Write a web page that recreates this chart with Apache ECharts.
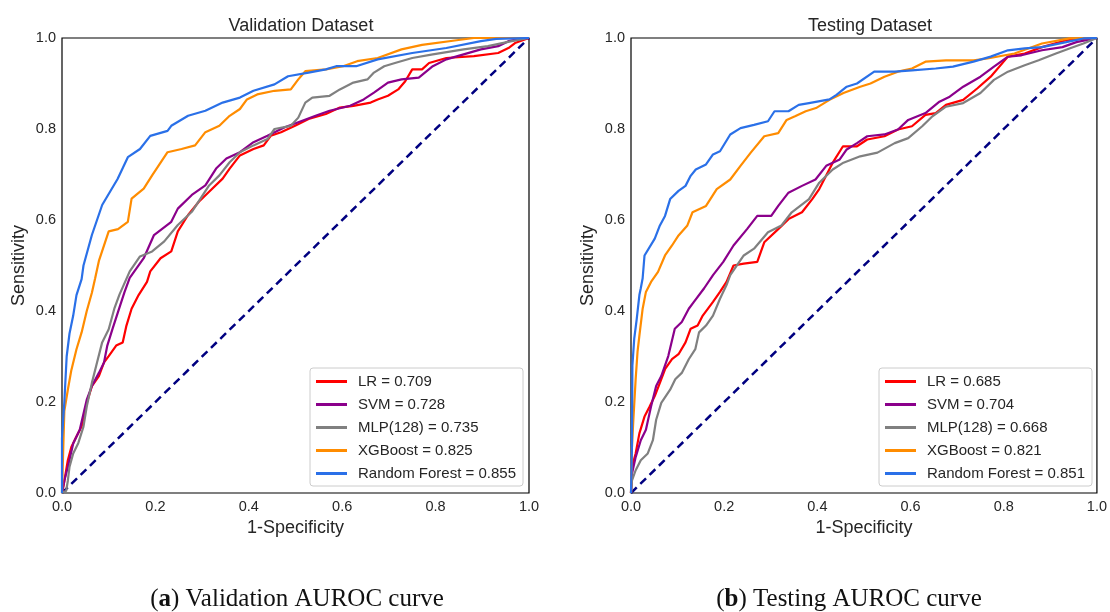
<!DOCTYPE html>
<html><head><meta charset="utf-8">
<script src="https://cdn.jsdelivr.net/npm/echarts@6/dist/echarts.min.js"></script>
<style>html,body{margin:0;padding:0;background:#fff}#c{width:1110px;height:612px}</style>
</head><body><div id="c"></div>
<script>
const ticks = [0, 0.2, 0.4, 0.6, 0.8, 1.0];
const panelTitles = ['Validation Dataset', 'Testing Dataset'];
const captions = [['a', 'Validation AUROC curve'], ['b', 'Testing AUROC curve']];
const models = ['LR', 'SVM', 'MLP(128)', 'XGBoost', 'Random Forest'];
const valAUC = ['0.709', '0.728', '0.735', '0.825', '0.855'];
const testAUC = ['0.685', '0.704', '0.668', '0.821', '0.851'];
const diagonal = [[0, 0], [1, 1]];

const valLR = [[0,0],[0.004,0.02],[0.0125,0.072],[0.02,0.101],[0.031,0.124],[0.042,0.146],[0.053,0.198],[0.064,0.235],[0.079,0.257],[0.09,0.287],[0.1,0.301],[0.116,0.324],[0.13,0.331],[0.138,0.368],[0.149,0.405],[0.164,0.435],[0.182,0.464],[0.189,0.487],[0.211,0.516],[0.234,0.531],[0.248,0.575],[0.27,0.611],[0.293,0.64],[0.315,0.662],[0.344,0.691],[0.359,0.713],[0.381,0.742],[0.41,0.756],[0.432,0.764],[0.447,0.785],[0.469,0.793],[0.499,0.807],[0.528,0.822],[0.565,0.833],[0.595,0.847],[0.624,0.851],[0.661,0.858],[0.676,0.865],[0.698,0.873],[0.72,0.887],[0.735,0.905],[0.75,0.931],[0.771,0.931],[0.786,0.945],[0.823,0.956],[0.882,0.96],[0.934,0.967],[0.956,0.978],[0.97,0.989],[1,1]];
const valSVM = [[0,0],[0.005,0.027],[0.0125,0.057],[0.024,0.109],[0.038,0.139],[0.053,0.205],[0.064,0.235],[0.079,0.264],[0.09,0.287],[0.097,0.324],[0.108,0.36],[0.12,0.398],[0.134,0.442],[0.145,0.473],[0.175,0.516],[0.197,0.567],[0.234,0.596],[0.248,0.625],[0.278,0.655],[0.307,0.676],[0.33,0.713],[0.352,0.735],[0.381,0.749],[0.41,0.771],[0.44,0.785],[0.477,0.804],[0.506,0.815],[0.543,0.829],[0.573,0.84],[0.617,0.851],[0.646,0.865],[0.668,0.88],[0.698,0.902],[0.727,0.909],[0.764,0.913],[0.794,0.938],[0.823,0.953],[0.86,0.964],[0.897,0.975],[0.934,0.982],[0.956,0.993],[0.97,0.996],[1,1]];
const valMLP = [[0,0],[0.009,0.005],[0.0125,0.027],[0.016,0.057],[0.024,0.087],[0.035,0.11],[0.046,0.146],[0.053,0.19],[0.064,0.242],[0.075,0.287],[0.086,0.331],[0.1,0.36],[0.112,0.405],[0.123,0.436],[0.145,0.487],[0.167,0.52],[0.193,0.531],[0.219,0.553],[0.248,0.589],[0.278,0.618],[0.315,0.676],[0.337,0.698],[0.359,0.727],[0.381,0.749],[0.41,0.764],[0.44,0.778],[0.455,0.8],[0.49,0.807],[0.506,0.825],[0.521,0.858],[0.536,0.869],[0.573,0.873],[0.595,0.887],[0.624,0.902],[0.654,0.909],[0.668,0.924],[0.69,0.938],[0.713,0.945],[0.75,0.956],[0.794,0.964],[0.86,0.975],[0.912,0.982],[0.963,0.993],[1,1]];
const valXGB = [[0,0],[0.003,0.11],[0.005,0.18],[0.0125,0.227],[0.02,0.27],[0.031,0.316],[0.042,0.353],[0.053,0.4],[0.064,0.44],[0.071,0.472],[0.079,0.51],[0.1,0.575],[0.12,0.58],[0.141,0.596],[0.149,0.647],[0.175,0.669],[0.193,0.698],[0.226,0.749],[0.256,0.756],[0.285,0.764],[0.307,0.793],[0.337,0.807],[0.359,0.829],[0.381,0.844],[0.396,0.865],[0.418,0.876],[0.455,0.884],[0.49,0.887],[0.506,0.909],[0.521,0.927],[0.565,0.931],[0.602,0.938],[0.632,0.949],[0.676,0.956],[0.727,0.975],[0.771,0.985],[0.845,0.995],[0.882,1],[1,1]];
const valRF = [[0,0],[0,0.12],[0.005,0.2],[0.01,0.3],[0.016,0.35],[0.024,0.39],[0.031,0.435],[0.042,0.47],[0.046,0.5],[0.064,0.567],[0.086,0.633],[0.119,0.69],[0.141,0.738],[0.167,0.756],[0.189,0.785],[0.226,0.796],[0.234,0.807],[0.27,0.829],[0.307,0.84],[0.344,0.858],[0.381,0.869],[0.41,0.884],[0.455,0.898],[0.484,0.916],[0.528,0.924],[0.565,0.931],[0.587,0.938],[0.63,0.938],[0.676,0.953],[0.75,0.967],[0.823,0.978],[0.897,0.993],[0.93,0.998],[1,1]];

const testLR = [[0,0],[0.002,0.057],[0.01,0.087],[0.018,0.131],[0.029,0.168],[0.04,0.19],[0.051,0.213],[0.062,0.242],[0.073,0.272],[0.088,0.294],[0.102,0.305],[0.117,0.331],[0.128,0.361],[0.143,0.368],[0.154,0.39],[0.176,0.42],[0.191,0.442],[0.205,0.464],[0.22,0.5],[0.242,0.504],[0.271,0.508],[0.286,0.551],[0.316,0.58],[0.338,0.602],[0.367,0.617],[0.389,0.646],[0.404,0.668],[0.433,0.726],[0.455,0.762],[0.485,0.762],[0.507,0.777],[0.544,0.784],[0.573,0.799],[0.603,0.806],[0.632,0.831],[0.654,0.835],[0.676,0.853],[0.713,0.864],[0.743,0.889],[0.772,0.915],[0.809,0.959],[0.845,0.966],[0.882,0.98],[0.934,0.995],[1,1]];
const testSVM = [[0,0],[0.002,0.042],[0.01,0.079],[0.021,0.116],[0.032,0.139],[0.043,0.19],[0.054,0.235],[0.065,0.257],[0.08,0.301],[0.094,0.361],[0.109,0.376],[0.124,0.405],[0.135,0.42],[0.157,0.45],[0.176,0.479],[0.198,0.508],[0.22,0.544],[0.249,0.58],[0.271,0.609],[0.301,0.609],[0.316,0.631],[0.338,0.66],[0.367,0.675],[0.396,0.689],[0.419,0.719],[0.448,0.733],[0.463,0.755],[0.485,0.769],[0.507,0.784],[0.544,0.788],[0.573,0.799],[0.595,0.82],[0.632,0.835],[0.662,0.86],[0.684,0.871],[0.713,0.893],[0.75,0.915],[0.779,0.937],[0.809,0.959],[0.838,0.962],[0.882,0.973],[0.926,0.98],[0.956,0.991],[1,1]];
const testMLP = [[0,0],[0.002,0.027],[0.01,0.05],[0.021,0.072],[0.036,0.087],[0.047,0.116],[0.054,0.161],[0.065,0.198],[0.084,0.227],[0.095,0.25],[0.109,0.264],[0.124,0.294],[0.138,0.316],[0.146,0.353],[0.161,0.368],[0.176,0.39],[0.191,0.427],[0.205,0.457],[0.213,0.479],[0.242,0.522],[0.264,0.537],[0.294,0.573],[0.323,0.588],[0.345,0.617],[0.382,0.646],[0.404,0.682],[0.433,0.711],[0.456,0.726],[0.492,0.74],[0.529,0.748],[0.566,0.769],[0.595,0.78],[0.625,0.806],[0.647,0.828],[0.676,0.849],[0.713,0.857],[0.75,0.879],[0.779,0.908],[0.809,0.926],[0.845,0.94],[0.875,0.951],[0.912,0.966],[0.941,0.977],[0.971,0.988],[1,1]];
const testXGB = [[0,0],[0.002,0.1],[0.005,0.16],[0.01,0.25],[0.014,0.31],[0.018,0.346],[0.025,0.405],[0.032,0.442],[0.043,0.464],[0.058,0.486],[0.073,0.522],[0.088,0.544],[0.102,0.566],[0.121,0.588],[0.132,0.617],[0.161,0.631],[0.184,0.668],[0.213,0.689],[0.235,0.719],[0.257,0.748],[0.286,0.784],[0.316,0.791],[0.334,0.82],[0.352,0.828],[0.375,0.839],[0.397,0.846],[0.426,0.864],[0.456,0.879],[0.492,0.893],[0.514,0.9],[0.544,0.915],[0.573,0.926],[0.603,0.933],[0.632,0.948],[0.676,0.951],[0.735,0.951],[0.765,0.955],[0.823,0.966],[0.882,0.988],[0.941,0.999],[1,1]];
const testRF = [[0,0],[0.002,0.1],[0.003,0.28],[0.007,0.34],[0.012,0.38],[0.018,0.435],[0.021,0.45],[0.025,0.472],[0.029,0.522],[0.051,0.559],[0.062,0.588],[0.073,0.609],[0.084,0.646],[0.102,0.664],[0.117,0.675],[0.128,0.697],[0.139,0.711],[0.161,0.722],[0.176,0.744],[0.191,0.751],[0.213,0.788],[0.235,0.802],[0.264,0.809],[0.294,0.817],[0.308,0.839],[0.338,0.839],[0.36,0.853],[0.382,0.857],[0.426,0.865],[0.441,0.875],[0.463,0.893],[0.485,0.9],[0.522,0.926],[0.566,0.926],[0.603,0.929],[0.654,0.933],[0.691,0.937],[0.735,0.948],[0.772,0.959],[0.809,0.973],[0.845,0.977],[0.882,0.98],[0.934,0.991],[0.971,0.999],[1,1]];

const colors = ['#ff0000', '#8b008b', '#808080', '#ff8c00', '#2a70e8'];
const panels = [
  {data: [valLR, valSVM, valMLP, valXGB, valRF], auc: valAUC, left: 62, width: 467, center: 296, capCenter: 292},
  {data: [testLR, testSVM, testMLP, testXGB, testRF], auc: testAUC, left: 631, width: 468, center: 865, capCenter: 844}
];
const FONT = 'Liberation Sans, Arial, sans-serif';
const gridTop = 38, gridHeight = 455;

const grid = [], xAxis = [], yAxis = [], series = [], legend = [], title = [];
panels.forEach((p, i) => {
  grid.push({left: p.left, top: gridTop, width: p.width, height: gridHeight, show: true, borderColor: '#000', borderWidth: 1.2, backgroundColor: '#fff'});
  const axBase = {gridIndex: i, type: 'value', min: 0, max: 1, interval: 0.2,
    axisLine: {show: false}, axisTick: {show: false}, splitLine: {show: false},
    axisLabel: {color: '#262626', fontSize: 14.5, fontFamily: FONT, formatter: v => v.toFixed(1), margin: 6},
    nameLocation: 'middle', nameTextStyle: {color: '#262626', fontSize: 18, fontFamily: FONT}};
  xAxis.push(Object.assign({}, axBase, {name: '1-Specificity', nameGap: 25}));
  yAxis.push(Object.assign({}, axBase, {name: 'Sensitivity', nameGap: 34}));
  const names = models.map((m, k) => m + ' = ' + p.auc[k]);
  p.data.forEach((d, k) => {
    series.push({type: 'line', name: names[k], xAxisIndex: i, yAxisIndex: i, data: d,
      showSymbol: false, symbol: 'none', color: colors[k], lineStyle: {width: 2.2, color: colors[k]}, z: 3 + k, animation: false});
  });
  series.push({type: 'line', name: 'diag' + i, xAxisIndex: i, yAxisIndex: i, data: diagonal, showSymbol: false, symbol: 'none',
    lineStyle: {width: 2.5, type: [8, 5], color: '#000080'}, z: 2, animation: false});
  legend.push({data: names, orient: 'vertical', left: p.left + 248, top: 368, icon: 'rect', itemWidth: 31, itemHeight: 3,
    itemGap: 8, padding: [6, 7, 5, 6], backgroundColor: '#fff', borderColor: '#cccccc', borderWidth: 1, borderRadius: 3,
    textStyle: {color: '#262626', fontSize: 15, fontFamily: FONT, padding: [0, 0, 0, 6]}, selectedMode: false});
  title.push({text: panelTitles[i], left: p.center, top: 12, textAlign: 'center',
    textStyle: {color: '#262626', fontSize: 18, fontWeight: 'normal', fontFamily: FONT}});
  title.push({text: '({b|' + captions[i][0] + '}) ' + captions[i][1], left: p.capCenter, top: 582, textAlign: 'center',
    textStyle: {color: '#111', fontSize: 25, fontWeight: 'normal', fontFamily: 'Liberation Serif, DejaVu Serif, serif',
      rich: {b: {fontSize: 25, fontWeight: 'bold', fontFamily: 'Liberation Serif, DejaVu Serif, serif', color: '#111'}}}});
});

const chart = echarts.init(document.getElementById('c'), null, {renderer: 'canvas'});
chart.setOption({backgroundColor: '#fff', animation: false, title, grid, xAxis, yAxis, series, legend});
</script></body></html>
